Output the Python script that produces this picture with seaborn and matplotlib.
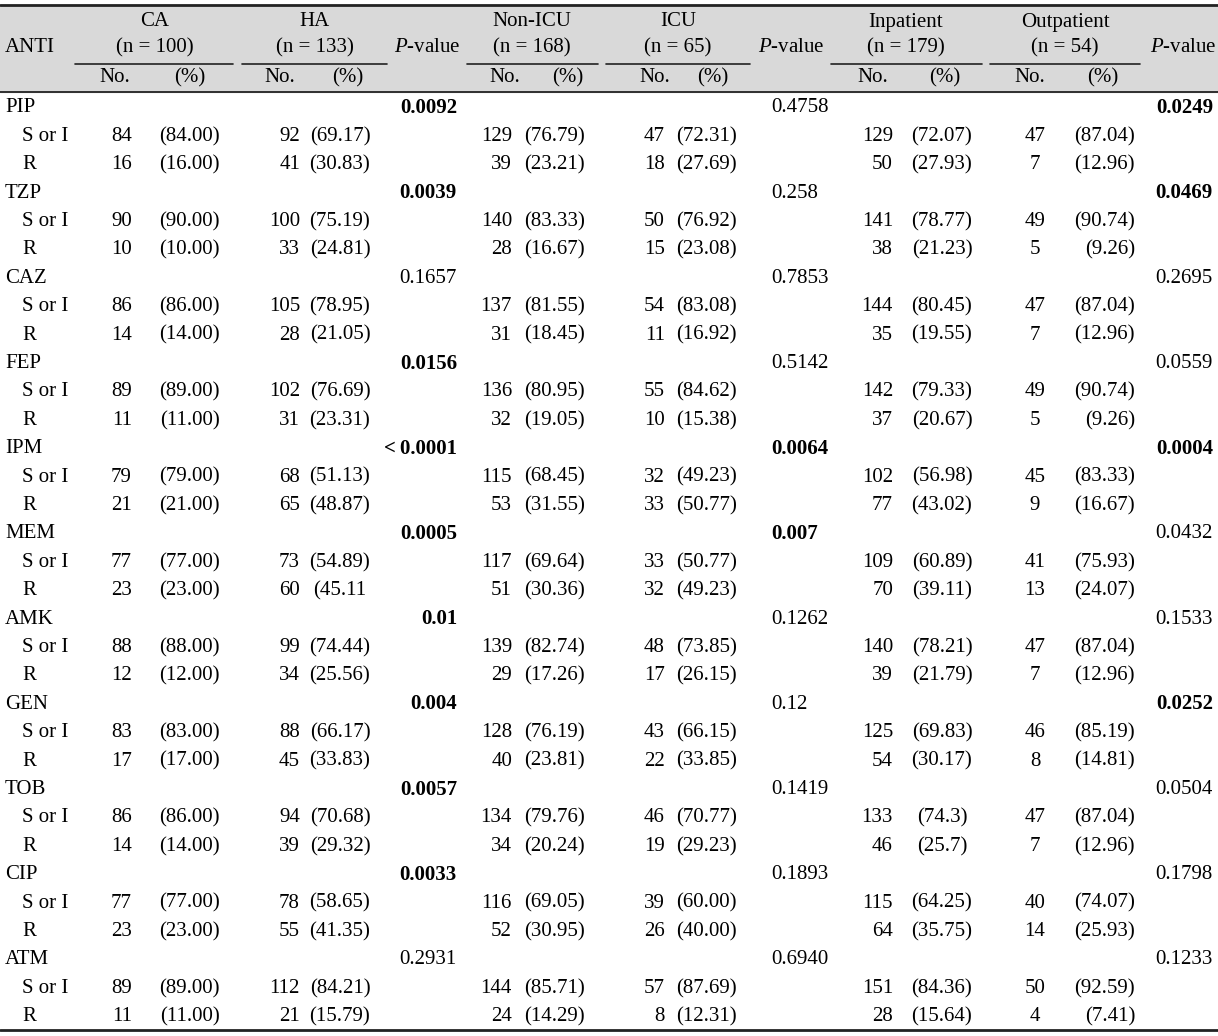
import matplotlib
matplotlib.use("Agg")
import matplotlib.pyplot as plt
import seaborn as sns

# ---- data ----
anti = ["PIP", "TZP", "CAZ", "FEP", "IPM", "MEM", "AMK", "GEN", "TOB", "CIP", "ATM"]

ca_s = [84, 90, 86, 89, 79, 77, 88, 83, 86, 77, 89]
ca_s_pct = ["84.00", "90.00", "86.00", "89.00", "79.00", "77.00", "88.00", "83.00", "86.00", "77.00", "89.00"]
ca_r = [16, 10, 14, 11, 21, 23, 12, 17, 14, 23, 11]
ca_r_pct = ["16.00", "10.00", "14.00", "11.00", "21.00", "23.00", "12.00", "17.00", "14.00", "23.00", "11.00"]

ha_s = [92, 100, 105, 102, 68, 73, 99, 88, 94, 78, 112]
ha_s_pct = ["69.17", "75.19", "78.95", "76.69", "51.13", "54.89", "74.44", "66.17", "70.68", "58.65", "84.21"]
ha_r = [41, 33, 28, 31, 65, 60, 34, 45, 39, 55, 21]
ha_r_pct = ["30.83", "24.81", "21.05", "23.31", "48.87", "45.11", "25.56", "33.83", "29.32", "41.35", "15.79"]

p1 = ["0.0092", "0.0039", "0.1657", "0.0156", "<\u20090.0001", "0.0005", "0.01", "0.004", "0.0057", "0.0033", "0.2931"]
p1_bold = [1, 1, 0, 1, 1, 1, 1, 1, 1, 1, 0]

nicu_s = [129, 140, 137, 136, 115, 117, 139, 128, 134, 116, 144]
nicu_s_pct = ["76.79", "83.33", "81.55", "80.95", "68.45", "69.64", "82.74", "76.19", "79.76", "69.05", "85.71"]
nicu_r = [39, 28, 31, 32, 53, 51, 29, 40, 34, 52, 24]
nicu_r_pct = ["23.21", "16.67", "18.45", "19.05", "31.55", "30.36", "17.26", "23.81", "20.24", "30.95", "14.29"]

icu_s = [47, 50, 54, 55, 32, 33, 48, 43, 46, 39, 57]
icu_s_pct = ["72.31", "76.92", "83.08", "84.62", "49.23", "50.77", "73.85", "66.15", "70.77", "60.00", "87.69"]
icu_r = [18, 15, 11, 10, 33, 32, 17, 22, 19, 26, 8]
icu_r_pct = ["27.69", "23.08", "16.92", "15.38", "50.77", "49.23", "26.15", "33.85", "29.23", "40.00", "12.31"]

p2 = ["0.4758", "0.258", "0.7853", "0.5142", "0.0064", "0.007", "0.1262", "0.12", "0.1419", "0.1893", "0.6940"]
p2_bold = [0, 0, 0, 0, 1, 1, 0, 0, 0, 0, 0]

inp_s = [129, 141, 144, 142, 102, 109, 140, 125, 133, 115, 151]
inp_s_pct = ["72.07", "78.77", "80.45", "79.33", "56.98", "60.89", "78.21", "69.83", "74.3", "64.25", "84.36"]
inp_r = [50, 38, 35, 37, 77, 70, 39, 54, 46, 64, 28]
inp_r_pct = ["27.93", "21.23", "19.55", "20.67", "43.02", "39.11", "21.79", "30.17", "25.7", "35.75", "15.64"]

out_s = [47, 49, 47, 49, 45, 41, 47, 46, 47, 40, 50]
out_s_pct = ["87.04", "90.74", "87.04", "90.74", "83.33", "75.93", "87.04", "85.19", "87.04", "74.07", "92.59"]
out_r = [7, 5, 7, 5, 9, 13, 7, 8, 7, 14, 4]
out_r_pct = ["12.96", "9.26", "12.96", "9.26", "16.67", "24.07", "12.96", "14.81", "12.96", "25.93", "7.41"]

p3 = ["0.0249", "0.0469", "0.2695", "0.0559", "0.0004", "0.0432", "0.1533", "0.0252", "0.0504", "0.1798", "0.1233"]
p3_bold = [1, 1, 0, 0, 1, 0, 0, 1, 0, 0, 0]

groups = ["CA", "HA", "Non-ICU", "ICU", "Inpatient", "Outpatient"]
group_n = [100, 133, 168, 65, 179, 54]

# ---- layout (pixels) ----
W, H = 1218, 1036
sns.set_theme(style="white")
plt.rcParams["font.family"] = ["Liberation Serif", "DejaVu Serif"]
plt.rcParams["text.color"] = "black"
plt.rcParams["mathtext.fontset"] = "custom"
plt.rcParams["mathtext.rm"] = "Liberation Serif"
plt.rcParams["mathtext.it"] = "Liberation Serif:italic"
FS = 15

fig = plt.figure(figsize=(W / 100, H / 100), dpi=100)
ax = fig.add_axes([0, 0, 1, 1])
ax.set_xlim(0, W)
ax.set_ylim(H, 0)
ax.axis("off")

# header shading and rules
ax.axhspan(5, 92, color="#d9d9d9", zorder=0)
ax.axhline(5, color="#222222", lw=2)
ax.axhline(92, color="#222222", lw=1.3)
ax.axhline(1030, color="#222222", lw=2)

grp_center = [155, 315, 532, 678, 906, 1065]
grp_span = [(75, 233), (242, 387), (467, 598), (606, 750), (831, 982), (990, 1140)]
no_hdr = [115, 280, 505, 655, 873, 1030]
pct_hdr = [190, 348, 568, 713, 945, 1103]

ax.text(5, 48, "ANTI", fontsize=FS, va="center", ha="left")
for g, n, c, (a, b), nx, px in zip(groups, group_n, grp_center, grp_span, no_hdr, pct_hdr):
    ax.text(c, 22, g, fontsize=FS, va="center", ha="center")
    ax.text(c, 48, f"(n = {n})", fontsize=FS, va="center", ha="center")
    ax.plot([a, b], [64, 64], color="#222222", lw=1.2)
    ax.text(nx, 78, "No.", fontsize=FS, va="center", ha="center")
    ax.text(px, 78, "(%)", fontsize=FS, va="center", ha="center")
for px in [427, 791, 1183]:
    ax.text(px, 48, r"$\it{P}$-value", fontsize=FS, va="center", ha="center")

# columns: (x, ha) for No. and (%) of each group
cols = [
    (ca_s, ca_r, ca_s_pct, ca_r_pct, (132, "right"), (220, "right")),
    (ha_s, ha_r, ha_s_pct, ha_r_pct, (300, "right"), (340, "center")),
    (nicu_s, nicu_r, nicu_s_pct, nicu_r_pct, (512, "right"), (585, "right")),
    (icu_s, icu_r, icu_s_pct, icu_r_pct, (665, "right"), (737, "right")),
    (inp_s, inp_r, inp_s_pct, inp_r_pct, (893, "right"), (942, "center")),
    (out_s, out_r, out_s_pct, out_r_pct, (1035, "center"), (1135, "right")),
]
pcols = [(p1, p1_bold, 457, "right"), (p2, p2_bold, 771, "left"), (p3, p3_bold, 1213, "right")]

y0, dy = 108, 28.4
for i, name in enumerate(anti):
    yh = y0 + 3 * i * dy
    ax.text(5, yh, name, fontsize=FS, va="center", ha="left")
    for vals, bolds, x, ha in pcols:
        ax.text(x, yh, vals[i], fontsize=FS, va="center", ha=ha,
                fontweight="bold" if bolds[i] else "normal")
    for k, lab in enumerate(["S or I", "R"]):
        y = yh + (k + 1) * dy
        ax.text(22, y, lab, fontsize=FS, va="center", ha="left")
        for s, r, sp, rp, (nx, nha), (px, pha) in cols:
            num = s[i] if k == 0 else r[i]
            pct = sp[i] if k == 0 else rp[i]
            txt = f"({pct})"
            if pct == "45.11":
                txt = "(45.11"
            ax.text(nx, y, str(num), fontsize=FS, va="center", ha=nha)
            ax.text(px, y, txt, fontsize=FS, va="center", ha=pha)

fig.savefig("out.png", dpi=100)
